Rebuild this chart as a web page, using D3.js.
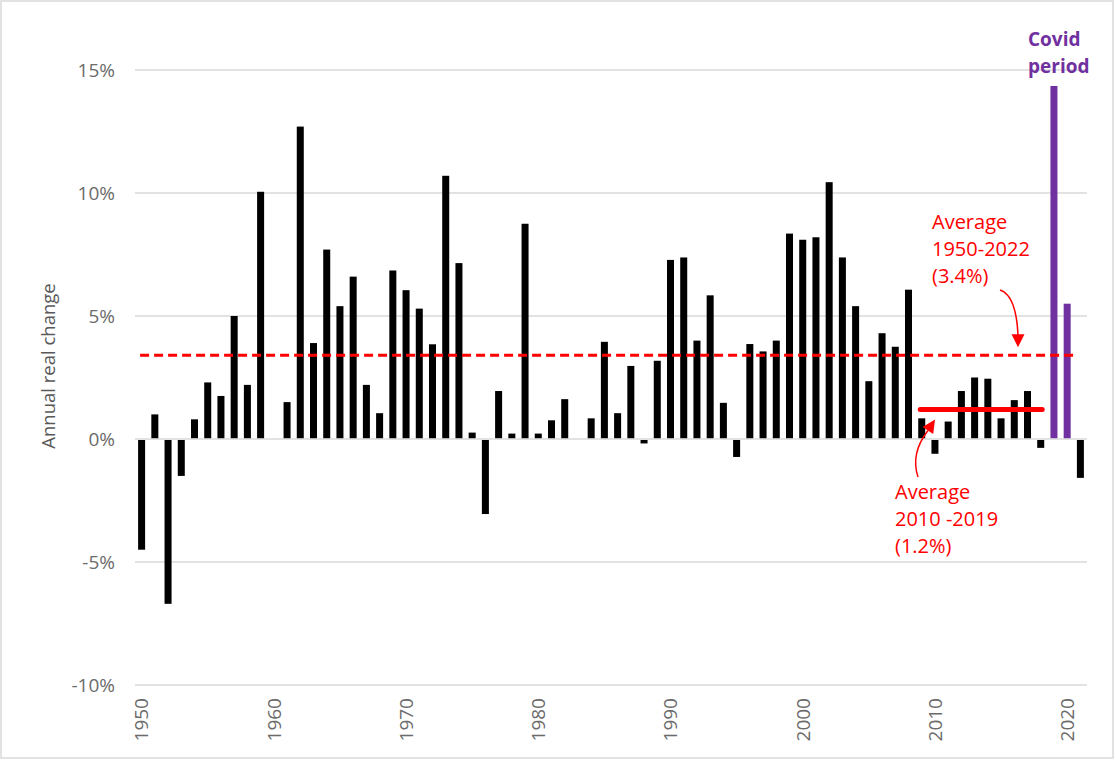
<!DOCTYPE html>
<html>
<head>
<meta charset="utf-8">
<script src="https://cdn.jsdelivr.net/npm/d3@7"></script>
<style>
  body { margin: 0; background: #fff; }
  svg { display: block; }
  text { font-family: "Open Sans", sans-serif; }
</style>
</head>
<body>
<script>

// annual real change (%), one bar per year
var years = ["1950","1951","1952","1953","1954","1955","1956","1957","1958","1959",
             "1960","1961","1962","1963","1964","1965","1966","1967","1968","1969",
             "1970","1971","1972","1973","1974","1975","1976","1977","1978","1979",
             "1980","1981","1982","1983","1984","1985","1986","1987","1988","1989",
             "1990","1991","1992","1993","1994","1995","1996","1997","1998","1999",
             "2000","2001","2002","2003","2004","2005","2006","2007","2008","2009",
             "2010","2011","2012","2013","2014","2015","2016","2017","2018","2019",
             "2020","2021"];

var change = [-4.5, 1.0, -6.7, -1.5, 0.8, 2.3, 1.75, 5.0, 2.2, 10.05,
              0, 1.5, 12.7, 3.9, 7.7, 5.4, 6.6, 2.2, 1.05, 6.85,
              6.05, 5.3, 3.85, 10.7, 7.15, 0.26, -3.05, 1.95, 0.22, 8.75,
              0.22, 0.76, 1.62, 0, 0.84, 3.95, 1.05, 2.97, -0.18, 3.18,
              7.28, 7.38, 4.0, 5.84, 1.47, -0.73, 3.86, 3.56, 4.0, 8.35,
              8.1, 8.2, 10.44, 7.38, 5.4, 2.35, 4.3, 3.75, 6.07, 0.84,
              -0.6, 0.71, 1.95, 2.5, 2.45, 0.84, 1.58, 1.95, -0.36, 14.35,
              5.5, -1.58];

var covidYears = ["2019", "2020"];
var yTicks = [-10, -5, 0, 5, 10, 15];
var xTickYears = ["1950", "1960", "1970", "1980", "1990", "2000", "2010", "2020"];

var avgAll = 3.4;                       // 1950-2022
var avgAllSpan = ["1950", "2021"];
var avgRecent = 1.2;                    // 2010-2019
var avgRecentSpan = ["2009", "2018"];

var dim = { width: 1115, height: 760,
            plot: { left: 135, right: 1087, top: 70, bottom: 685 } };

var svg = d3.select("body").append("svg")
    .attr("width", dim.width)
    .attr("height", dim.height);

// outer frame
svg.append("rect")
    .attr("x", 1).attr("y", 1)
    .attr("width", dim.width - 3).attr("height", dim.height - 3)
    .attr("fill", "none").attr("stroke", "#d9d9d9").attr("stroke-width", 1.5);

var x = d3.scaleBand()
    .domain(years)
    .range([dim.plot.left, dim.plot.right])
    .paddingInner(0.47)
    .paddingOuter(0.235);

var y = d3.scaleLinear()
    .domain([-10, 15])
    .range([dim.plot.bottom, dim.plot.top]);

var bw = x.bandwidth();

// gridlines
svg.append("g").attr("class", "grid")
  .selectAll("line").data(yTicks).enter()
  .append("line")
    .attr("x1", dim.plot.left).attr("x2", dim.plot.right)
    .attr("y1", function(d) { return y(d); })
    .attr("y2", function(d) { return y(d); })
    .attr("stroke", "#d9d9d9").attr("stroke-width", 1.5);

// y tick labels
svg.append("g").attr("class", "y labels")
  .selectAll("text").data(yTicks).enter()
  .append("text")
    .attr("x", 115)
    .attr("y", function(d) { return y(d); })
    .attr("dy", "0.36em")
    .attr("text-anchor", "end")
    .attr("font-size", 19)
    .attr("fill", "#6b6b6b")
    .text(function(d) { return d + "%"; });

svg.append("text")
    .attr("transform", "translate(55," + 366 + ") rotate(-90)")
    .attr("text-anchor", "middle")
    .attr("font-size", 18.5)
    .attr("fill", "#595959")
    .text("Annual real change");

// x labels
svg.append("g").attr("class", "x labels")
  .selectAll("text").data(xTickYears).enter()
  .append("text")
    .attr("transform", function(d) {
        return "translate(" + (x(d) + bw / 2) + ",698) rotate(-90)";
    })
    .attr("dy", "0.36em")
    .attr("text-anchor", "end")
    .attr("font-size", 19)
    .attr("fill", "#6b6b6b")
    .text(function(d) { return d; });

// bars
var rows = years.map(function(yr, i) { return { year: yr, v: change[i] }; });

svg.append("g").attr("class", "bars")
  .selectAll("rect").data(rows.filter(function(d) { return d.v !== 0; })).enter()
  .append("rect")
    .attr("x", function(d) { return x(d.year); })
    .attr("width", bw)
    .attr("y", function(d) { return d.v > 0 ? y(d.v) : y(0) + 1; })
    .attr("height", function(d) { return Math.abs(y(d.v) - y(0)) - (d.v > 0 ? 0.8 : 1); })
    .attr("fill", function(d) { return covidYears.indexOf(d.year) >= 0 ? "#7030a0" : "#000"; });

// average lines
svg.append("line")
    .attr("x1", x(avgAllSpan[0]) + 2)
    .attr("x2", x(avgAllSpan[1]))
    .attr("y1", y(avgAll)).attr("y2", y(avgAll))
    .attr("stroke", "#ff0000").attr("stroke-width", 3)
    .attr("stroke-dasharray", "9,5");

svg.append("line")
    .attr("x1", x(avgRecentSpan[0]) + 2)
    .attr("x2", x(avgRecentSpan[1]) + bw - 2)
    .attr("y1", y(avgRecent)).attr("y2", y(avgRecent))
    .attr("stroke", "#ff0000").attr("stroke-width", 5)
    .attr("stroke-linecap", "round");

// annotations
function block(lines, left, top, color, weight) {
    var t = svg.append("text")
        .attr("x", left).attr("y", top)
        .attr("font-size", weight === "bold" ? 19 : 20)
        .attr("font-weight", weight || "normal")
        .attr("fill", color);
    lines.forEach(function(s, i) {
        t.append("tspan").attr("x", left).attr("dy", i === 0 ? 0 : 27).text(s);
    });
}

block(["Average", "1950-2022", "(3.4%)"], 932, 229, "#ff0000");
block(["Average", "2010 -2019", "(1.2%)"], 895, 499, "#ff0000");
block(["Covid", "period"], 1028, 46, "#7030a0", "bold");

// curved arrow pointing at the long-run average
var tip1 = [1018, y(avgAll) - 8];
svg.append("path")
    .attr("d", "M1000,290 C1012,294 1017,312 " + tip1[0] + "," + (tip1[1] - 12))
    .attr("fill", "none").attr("stroke", "#ff0000").attr("stroke-width", 1.5);
svg.append("path")
    .attr("d", "M" + (tip1[0] - 6.5) + "," + (tip1[1] - 13) +
               "L" + (tip1[0] + 6.5) + "," + (tip1[1] - 13) +
               "L" + tip1[0] + "," + tip1[1] + "Z")
    .attr("fill", "#ff0000");

// curved arrow pointing at the 2010-2019 average
var tip2 = [935, y(avgRecent) + 10];
svg.append("path")
    .attr("d", "M918,477 C913,462 916,446 " + (tip2[0] - 7) + "," + (tip2[1] + 11))
    .attr("fill", "none").attr("stroke", "#ff0000").attr("stroke-width", 1.5);
svg.append("path")
    .attr("d", "M" + tip2[0] + "," + tip2[1] +
               "L" + (tip2[0] - 1.8) + "," + (tip2[1] + 14.6) +
               "L" + (tip2[0] - 12.4) + "," + (tip2[1] + 7.6) + "Z")
    .attr("fill", "#ff0000");

</script>
</body>
</html>
